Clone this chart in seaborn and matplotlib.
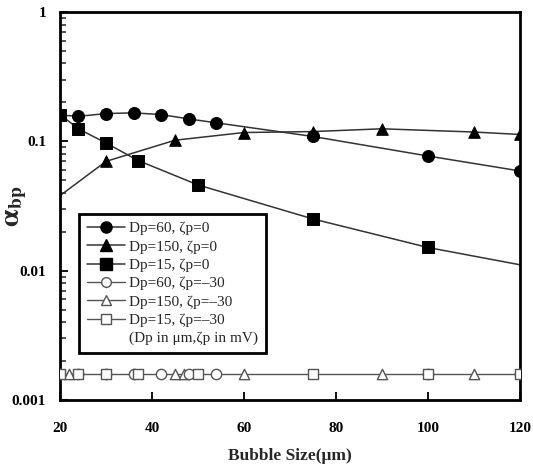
import matplotlib
matplotlib.use("Agg")
import matplotlib.pyplot as plt
from matplotlib.lines import Line2D
from matplotlib.ticker import LogLocator, NullLocator, FixedLocator, FixedFormatter
import seaborn as sns

# ---------------- data ----------------
# Dp=60, zeta=0 (filled circles)
c60_x = [20, 24, 30, 36, 42, 48, 54, 75, 100, 120]
c60_y = [0.160, 0.156, 0.164, 0.166, 0.161, 0.149, 0.139, 0.109, 0.077, 0.059]
# Dp=150, zeta=0 (filled triangles); curve starts at the axis without a marker
t150_curve_x = [20, 30, 45, 60, 75, 90, 110, 120]
t150_curve_y = [0.038, 0.070, 0.102, 0.117, 0.119, 0.125, 0.118, 0.113]
t150_x = [30, 45, 60, 75, 90, 110, 120]
t150_y = [0.070, 0.102, 0.117, 0.119, 0.125, 0.118, 0.113]
# Dp=15, zeta=0 (filled squares); curve extends to 120 without a marker
s15_curve_x = [20, 24, 30, 37, 50, 75, 100, 120]
s15_curve_y = [0.161, 0.125, 0.097, 0.071, 0.046, 0.0251, 0.0151, 0.0111]
s15_x = [20, 24, 30, 37, 50, 75, 100]
s15_y = [0.161, 0.125, 0.097, 0.071, 0.046, 0.0251, 0.0151]
# zeta=-30 series (open markers), all at the same level
flat_curve_x = [20, 120]
flat_curve_y = [0.0016, 0.0016]
oc60_x = [20, 24, 30, 36, 42, 48, 54, 100, 120]
oc60_y = [0.0016] * 9
ot150_x = [22, 45, 47, 60, 90, 110]
ot150_y = [0.0016] * 6
os15_x = [20, 24, 30, 37, 50, 75, 100, 120]
os15_y = [0.0016] * 8

legend_labels = ["Dp=60, ζp=0", "Dp=150, ζp=0", "Dp=15, ζp=0",
                 "Dp=60, ζp=–30", "Dp=150, ζp=–30", "Dp=15, ζp=–30",
                 "(Dp in μm,ζp in mV)"]
xticks = [20, 40, 60, 80, 100, 120]
yticks = [0.001, 0.01, 0.1, 1]
ytick_labels = ["0.001", "0.01", "0.1", "1"]

# ---------------- style ----------------
sns.set_theme(style="white")
plt.rcParams["font.family"] = ["Liberation Serif", "DejaVu Serif"]
plt.rcParams["mathtext.fontset"] = "stix"

fig, ax = plt.subplots(figsize=(5.33, 4.75), dpi=100)
fig.subplots_adjust(left=0.1126, right=0.9756, bottom=0.158, top=0.9747)

line_col = "#333333"
open_col = "#555555"
lw = 1.1

# curves
for cx, cy in [(c60_x, c60_y), (t150_curve_x, t150_curve_y), (s15_curve_x, s15_curve_y)]:
    sns.lineplot(x=cx, y=cy, ax=ax, color=line_col, lw=lw, legend=False,
                 estimator=None, sort=False)
sns.lineplot(x=flat_curve_x, y=flat_curve_y, ax=ax, color=open_col, lw=1.0,
             legend=False, estimator=None, sort=False)

# open markers
sns.scatterplot(x=ot150_x, y=ot150_y, ax=ax, marker="^", s=55, color="white",
                edgecolor=open_col, linewidth=1.0, zorder=3, legend=False)
sns.scatterplot(x=oc60_x, y=oc60_y, ax=ax, marker="o", s=55, color="white",
                edgecolor=open_col, linewidth=1.0, zorder=3, legend=False)
sns.scatterplot(x=os15_x, y=os15_y, ax=ax, marker="s", s=55, color="white",
                edgecolor=open_col, linewidth=1.0, zorder=3, legend=False)

# filled markers
sns.scatterplot(x=c60_x, y=c60_y, ax=ax, marker="o", s=75, color="black",
                edgecolor="black", zorder=4, legend=False)
sns.scatterplot(x=t150_x, y=t150_y, ax=ax, marker="^", s=70, color="black",
                edgecolor="black", zorder=4, legend=False)
sns.scatterplot(x=s15_x, y=s15_y, ax=ax, marker="s", s=75, color="black",
                edgecolor="black", zorder=5, legend=False)

# axes
ax.set_yscale("log")
ax.set_xlim(20, 120)
ax.set_ylim(0.001, 1)
ax.xaxis.set_major_locator(FixedLocator(xticks))
ax.xaxis.set_minor_locator(NullLocator())
ax.yaxis.set_major_locator(FixedLocator(yticks))
ax.yaxis.set_major_formatter(FixedFormatter(ytick_labels))
ax.yaxis.set_minor_locator(LogLocator(base=10, subs=range(2, 10)))
ax.tick_params(which="major", direction="in", length=6, width=1.3,
               left=True, bottom=True, right=False, top=False,
               labelsize=11, colors="black")
ax.tick_params(axis="x", which="major", pad=16)
ax.tick_params(axis="y", which="major", pad=10)
ax.tick_params(which="minor", direction="in", length=4, width=1.1,
               left=True, right=False, bottom=False, top=False)
for lab in ax.get_xticklabels() + ax.get_yticklabels():
    lab.set_fontweight("bold")
for sp in ax.spines.values():
    sp.set_color("black")
    sp.set_linewidth(2.0)

ax.set_xlabel("Bubble Size(μm)", fontsize=12.5, fontweight="bold", labelpad=9)
ax.set_ylabel(r"$\mathbf{\alpha}_{\mathbf{bp}}$", fontsize=20)
ax.yaxis.set_label_coords(-0.068, 0.5)

# legend
handles = [
    Line2D([], [], color=line_col, lw=lw, marker="o", ms=8, mfc="black", mec="black"),
    Line2D([], [], color=line_col, lw=lw, marker="^", ms=8, mfc="black", mec="black"),
    Line2D([], [], color=line_col, lw=lw, marker="s", ms=8, mfc="black", mec="black"),
    Line2D([], [], color=open_col, lw=1.0, marker="o", ms=7, mfc="white", mec=open_col),
    Line2D([], [], color=open_col, lw=1.0, marker="^", ms=7, mfc="white", mec=open_col),
    Line2D([], [], color=open_col, lw=1.0, marker="s", ms=7, mfc="white", mec=open_col),
    Line2D([], [], ls="none"),
]
leg = ax.legend(handles, legend_labels, loc="upper left",
                bbox_to_anchor=(0.041, 0.479), fontsize=11, frameon=True,
                fancybox=False, framealpha=1, edgecolor="black",
                borderpad=0.5, labelspacing=0.3, handlelength=2.5,
                handletextpad=0.3, borderaxespad=0)
leg.get_frame().set_linewidth(2.0)

fig.savefig("out.png", dpi=100)
